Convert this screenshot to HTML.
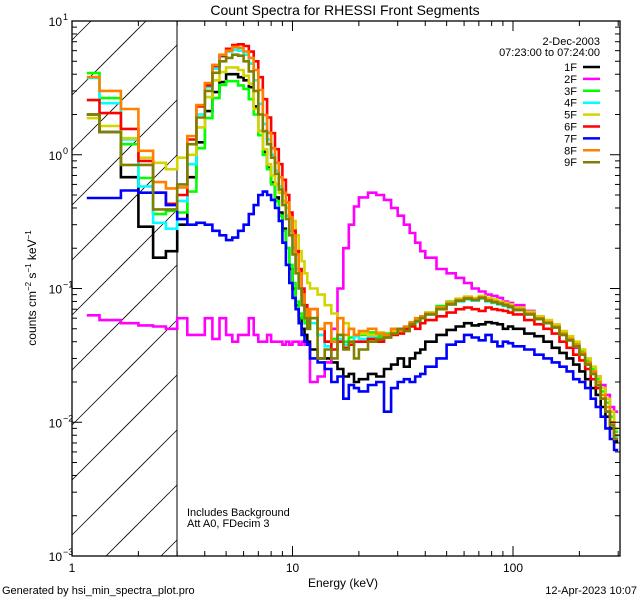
<!DOCTYPE html>
<html><head><meta charset="utf-8"><style>
html,body{margin:0;padding:0;background:#fff;width:640px;height:600px;overflow:hidden;}
svg{display:block;font-family:"Liberation Sans",sans-serif;overflow:hidden;}
</style></head><body>
<svg id="chart" width="640" height="600" viewBox="0 0 640 600" xmlns="http://www.w3.org/2000/svg">
<rect width="640" height="600" fill="#fff"/>
<defs><clipPath id="plotclip"><rect x="72" y="21" width="548" height="535"/></clipPath></defs>
<g id="hatch"></g>
<line x1="177" y1="21" x2="177" y2="556" stroke="#000" stroke-width="1"/>
<g id="series" clip-path="url(#plotclip)"></g>
<rect x="72" y="21" width="548" height="535" fill="none" stroke="#000" stroke-width="1.3"/>
<g id="ticks"></g>
<text x="345" y="15" font-size="14" text-anchor="middle">Count Spectra for RHESSI Front Segments</text>
<text x="343" y="587" font-size="12" text-anchor="middle">Energy (keV)</text>
<text transform="translate(36,288) rotate(-90)" font-size="12" text-anchor="middle">counts cm<tspan font-size="8" dy="-5">−2</tspan><tspan dy="5"> s</tspan><tspan font-size="8" dy="-5">−1</tspan><tspan dy="5"> keV</tspan><tspan font-size="8" dy="-5">−1</tspan></text>
<text x="2" y="594" font-size="11">Generated by hsi_min_spectra_plot.pro</text>
<text x="637" y="594" font-size="11" text-anchor="end">12-Apr-2023 10:07</text>
<text x="187" y="516" font-size="11">Includes Background</text>
<text x="187" y="527" font-size="11">Att A0, FDecim 3</text>
<text x="600" y="45" font-size="11" text-anchor="end">2-Dec-2003</text>
<text x="600" y="56" font-size="11" text-anchor="end">07:23:00 to 07:24:00</text>
<g id="legend"></g>
</svg>
<script>
const edges=[1.167,1.333,1.667,2,2.333,2.667,3,3.333,3.667,4,4.333,4.667,5,5.333,5.667,6,6.333,6.667,7,7.333,7.667,8,8.333,8.667,9,9.333,9.667,10,10.333,10.667,11,11.333,11.667,12,13,14,15,16,17,18,19,20,22,24,26,28,30,32,34,36,38,40,45,50,55,60,65,70,75,80,85,90,95,100,112.5,125,137.5,150,162.5,175,187.5,200,212.5,225,237.5,250,262.5,275,287.5,300];
const seriesNames=["1F","2F","3F","4F","5F","6F","7F","8F","9F"];
const seriesColors=["#000000","#ff00ff","#00ff00","#00ffff","#d4d400","#ff0000","#0000ff","#ff8000","#808000"];
const s1F=[2.0,1.48,0.68,0.29,0.17,0.19, 0.3,0.68,1.24,2.12,2.94,3.5,4.0,4.0,3.8,3.6,3.2,2.3,1.5,1.05,0.8,0.62,0.48,0.37,0.28,0.2,0.14,0.1,0.075,0.06,0.05,0.045,0.04, 0.035,0.03,0.03,0.028,0.025,0.022,0.023,0.02, 0.021,0.023,0.022,0.025,0.027,0.03,0.026,0.03,0.033,0.035, 0.04,0.045,0.049,0.052,0.055,0.053,0.054,0.056,0.055,0.054,0.05,0.052, 0.05,0.046,0.044,0.04,0.036,0.033,0.03,0.027,0.024,0.021,0.018,0.016,0.013,0.011,0.009,0.0072];
const s2F=[0.063,0.058,0.055,0.053,0.052,0.05, 0.06,0.045,0.045,0.06,0.042,0.06,0.045,0.04,0.045,0.045,0.06,0.045,0.04,0.04,0.045,0.04,0.04,0.04,0.038,0.04,0.038,0.04,0.04,0.038,0.04,0.038,0.038, 0.02,0.022,0.028,0.05,0.1,0.2,0.3,0.41, 0.48,0.52,0.5,0.46,0.4,0.35,0.3,0.26,0.22,0.19, 0.17,0.14,0.13,0.12,0.11,0.1,0.095,0.09,0.088,0.085,0.08,0.078, 0.075,0.068,0.062,0.057,0.052,0.046,0.041,0.036,0.032,0.028,0.025,0.022,0.019,0.016,0.013,0.012];
const s3F=[4.08,2.65,1.2,0.67,0.36,0.38, 0.37,0.53,1.12,1.88,2.65,3.33,3.55,3.55,3.3,3.1,2.6,2.0,1.4,1.0,0.78,0.6,0.45,0.35,0.27,0.2,0.15,0.11,0.08,0.065,0.06,0.055,0.05, 0.06,0.045,0.04,0.042,0.045,0.04,0.043,0.045, 0.045,0.047,0.044,0.046,0.048,0.047,0.05,0.055,0.058,0.062, 0.066,0.074,0.08,0.083,0.086,0.084,0.087,0.083,0.081,0.079,0.077,0.075, 0.071,0.066,0.061,0.057,0.053,0.047,0.043,0.039,0.034,0.029,0.025,0.021,0.017,0.014,0.011,0.0085];
const s4F=[3.75,2.43,1.3,0.58,0.31,0.28, 0.45,0.85,2.0,3.2,4.4,5.4,5.9,6.1,6.0,5.6,4.8,3.6,2.4,1.7,1.3,1.0,0.76,0.58,0.45,0.35,0.27,0.2,0.14,0.1,0.075,0.06,0.05, 0.055,0.045,0.037,0.04,0.042,0.038,0.04,0.044, 0.042,0.044,0.041,0.045,0.046,0.048,0.05,0.053,0.056,0.06, 0.064,0.07,0.076,0.08,0.083,0.081,0.084,0.08,0.078,0.076,0.074,0.072, 0.069,0.064,0.059,0.055,0.051,0.045,0.041,0.037,0.032,0.027,0.023,0.019,0.015,0.012,0.0095,0.0078];
const s5F=[1.88,1.64,1.33,0.95,0.87,0.78, 0.95,1.0,1.6,2.7,3.6,4.15,4.5,4.5,4.3,3.9,3.4,2.2,1.5,1.1,0.85,0.7,0.6,0.52,0.45,0.4,0.35,0.32,0.25,0.19,0.16,0.13,0.11, 0.1,0.09,0.075,0.065,0.06,0.055,0.05,0.045, 0.046,0.045,0.047,0.044,0.048,0.05,0.049,0.054,0.057,0.06, 0.066,0.072,0.079,0.084,0.087,0.085,0.088,0.085,0.083,0.08,0.078,0.076, 0.072,0.067,0.062,0.058,0.054,0.048,0.044,0.04,0.035,0.03,0.026,0.022,0.018,0.015,0.012,0.009];
const s6F=[2.56,2.05,1.56,0.9,0.52,0.43, 0.5,1.3,2.3,3.3,4.6,5.5,6.2,6.6,6.7,6.5,5.9,5.0,3.8,2.6,1.9,1.45,1.1,0.85,0.65,0.5,0.37,0.27,0.19,0.14,0.1,0.075,0.06, 0.07,0.05,0.04,0.035,0.04,0.036,0.038,0.04, 0.04,0.042,0.04,0.043,0.045,0.046,0.05,0.052,0.05,0.055, 0.058,0.062,0.066,0.07,0.072,0.07,0.068,0.072,0.07,0.069,0.068,0.066, 0.064,0.058,0.054,0.05,0.046,0.04,0.036,0.032,0.029,0.025,0.021,0.018,0.015,0.012,0.01,0.008];
const s7F=[0.475,0.475,0.54,0.52,0.52,0.42, 0.33,0.3,0.31,0.3,0.27,0.25,0.23,0.24,0.27,0.3,0.36,0.42,0.5,0.53,0.5,0.46,0.4,0.32,0.22,0.15,0.11,0.085,0.07,0.055,0.045,0.04,0.038, 0.03,0.028,0.025,0.02,0.022,0.015,0.019,0.018, 0.017,0.019,0.02,0.012,0.018,0.02,0.021,0.02,0.022,0.023, 0.026,0.03,0.038,0.04,0.045,0.043,0.041,0.045,0.04,0.037,0.04,0.039, 0.037,0.035,0.032,0.03,0.028,0.026,0.024,0.021,0.02,0.018,0.015,0.013,0.011,0.009,0.0075,0.0062];
const s8F=[3.81,3.0,2.2,1.07,0.625,0.56, 0.57,1.38,2.35,3.44,4.7,5.6,6.0,6.4,6.3,5.9,5.3,4.3,3.05,1.98,1.46,1.12,0.87,0.68,0.52,0.44,0.34,0.25,0.18,0.13,0.09,0.07,0.055, 0.07,0.05,0.055,0.04,0.06,0.045,0.05,0.045, 0.048,0.05,0.046,0.045,0.05,0.048,0.052,0.056,0.06,0.062, 0.065,0.072,0.078,0.082,0.085,0.083,0.086,0.082,0.08,0.078,0.076,0.074, 0.07,0.065,0.06,0.056,0.052,0.046,0.042,0.038,0.033,0.028,0.024,0.02,0.016,0.013,0.01,0.008];
const s9F=[2.0,1.48,0.84,0.84,0.39,0.39, 0.6,1.2,1.9,3.0,4.1,5.0,5.3,5.6,5.5,5.0,4.2,3.0,2.0,1.5,1.2,0.95,0.72,0.55,0.42,0.33,0.25,0.18,0.13,0.1,0.075,0.06,0.05, 0.06,0.03,0.035,0.03,0.045,0.035,0.04,0.03, 0.035,0.04,0.042,0.043,0.046,0.05,0.048,0.054,0.057,0.06, 0.064,0.07,0.076,0.081,0.084,0.082,0.085,0.081,0.079,0.077,0.075,0.073, 0.069,0.064,0.059,0.055,0.051,0.045,0.041,0.037,0.032,0.027,0.023,0.019,0.015,0.012,0.0095,0.0075];
const seriesValues=[s1F,s2F,s3F,s4F,s5F,s6F,s7F,s8F,s9F];
const xTickLabels=["1","10","100"];
const yTickExps=["1","0","−1","−2","−3"];

const NS="http://www.w3.org/2000/svg";
const X0=72,X1=620,Y0=21,Y1=556,XDEC=220.5,YMAXLOG=1,YMINLOG=-3;
function xs(e){return X0+XDEC*Math.log10(e);}
function ys(v){return Y0+(Y1-Y0)*(YMAXLOG-Math.log10(v))/(YMAXLOG-YMINLOG);}
function mk(tag,attrs,parent){const el=document.createElementNS(NS,tag);for(const k in attrs)el.setAttribute(k,attrs[k]);parent.appendChild(el);return el;}

// hatching: lines y = c - (x - 72), clipped manually to [72,177]x[21,556]
const hatch=document.getElementById('hatch');
const HX0=72,HX1=177;
for(let c=40;c<=556+105;c+=55){
  let xa=HX0, xb=HX1;
  // y at x: c-(x-72); need Y0<=y<=Y1
  xa=Math.max(xa, 72+c-Y1);
  xb=Math.min(xb, 72+c-Y0);
  if(xb<=xa)continue;
  const l=mk('line',{x1:xa,y1:c-(xa-72),x2:xb,y2:c-(xb-72),stroke:'#000','stroke-width':0.8},hatch);
  
  
}

const sg=document.getElementById('series');
seriesValues.forEach((vals,i)=>{
  let d='M'+xs(edges[0]).toFixed(1)+','+ys(vals[0]).toFixed(1);
  for(let k=0;k<vals.length;k++){
    d+=' H'+Math.min(xs(edges[k+1]),X1).toFixed(1);
    if(k+1<vals.length)d+=' V'+ys(vals[k+1]).toFixed(1);
  }
  const p=mk('path',{d:d,fill:'none',stroke:seriesColors[i],'stroke-width':2.6,'stroke-linejoin':'miter'},sg);
  
  
});

const tg=document.getElementById('ticks');
for(let dec=0;dec<3;dec++){
  for(let m=1;m<10;m++){
    const e=m*Math.pow(10,dec); if(e>300)break;
    const x=xs(e); const len=m===1?10:5;
    const t1=mk('line',{x1:x,y1:Y1,x2:x,y2:Y1-len,stroke:'#000','stroke-width':1},tg);
    
    
    const t2=mk('line',{x1:x,y1:Y0,x2:x,y2:Y0+len,stroke:'#000','stroke-width':1},tg);
    
    
  }
}
xTickLabels.forEach((lab,i)=>{
  const t=mk('text',{x:xs(Math.pow(10,i)),y:572,'font-size':12,'text-anchor':'middle'},tg);
  t.textContent=lab;
  
  
});
for(let p=-3;p<=1;p++){
  for(let m=1;m<10;m++){
    const v=m*Math.pow(10,p); if(v>10)break;
    const y=ys(v); const len=m===1?10:5;
    const a=mk('line',{x1:X0,y1:y,x2:X0+len,y2:y,stroke:'#000','stroke-width':1},tg);
    
    
    const b=mk('line',{x1:X1,y1:y,x2:X1-len,y2:y,stroke:'#000','stroke-width':1},tg);
    
    
  }
}
yTickExps.forEach((ex,i)=>{
  const y=ys(Math.pow(10,1-i));
  const t=mk('text',{x:62,y:y+5,'font-size':12,'text-anchor':'end'},tg);
  t.textContent='10';
  
  
  const s=mk('text',{x:63,y:y-1,'font-size':9},tg);
  s.textContent=ex;
  
  
});

const lg=document.getElementById('legend');
seriesNames.forEach((n,i)=>{
  const y=67+i*11.9;
  const g=mk('g',{},lg);
  
  
  const t=mk('text',{x:577,y:y+4,'font-size':11,'text-anchor':'end'},g);
  t.textContent=n;
  mk('line',{x1:583,y1:y,x2:600,y2:y,stroke:seriesColors[i],'stroke-width':2.5},g);
});
</script>
</body></html>
